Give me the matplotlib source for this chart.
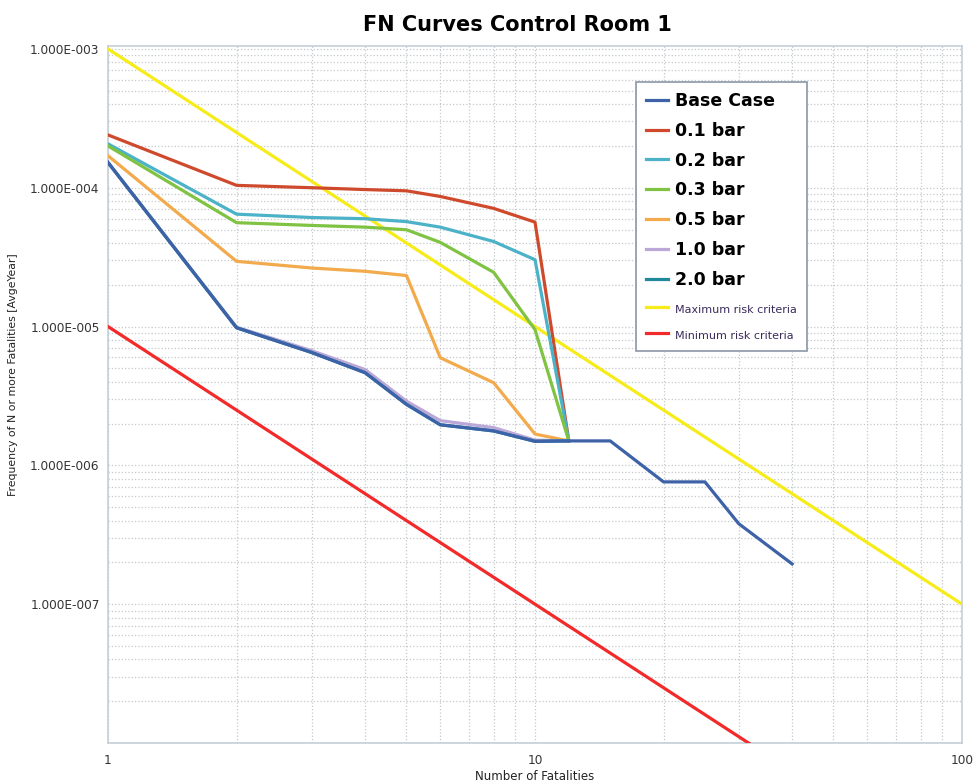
import numpy as np
import matplotlib
matplotlib.use('Agg')
import matplotlib.pyplot as plt
from matplotlib.ticker import FuncFormatter, LogLocator, NullFormatter

# number of fatalities for the scenarios
n_short = [1, 2, 3, 4, 5, 6, 8, 10, 12]
n_base = [1, 2, 3, 4, 5, 6, 8, 10, 12, 15, 20, 25, 30, 40]

base_case = [1.52e-4, 9.8e-6, 6.5e-6, 4.65e-6, 2.75e-6, 1.96e-6, 1.77e-6, 1.49e-6, 1.5e-6,
             1.5e-6, 7.6e-7, 7.6e-7, 3.8e-7, 1.95e-7]
bar_01 = [2.4e-4, 1.04e-4, 1.0e-4, 9.7e-5, 9.5e-5, 8.65e-5, 7.1e-5, 5.65e-5, 1.5e-6]
bar_02 = [2.07e-4, 6.45e-5, 6.1e-5, 5.98e-5, 5.7e-5, 5.2e-5, 4.1e-5, 3.03e-5, 1.5e-6]
bar_03 = [2.0e-4, 5.6e-5, 5.35e-5, 5.2e-5, 4.98e-5, 4.04e-5, 2.46e-5, 9.5e-6, 1.5e-6]
bar_05 = [1.7e-4, 2.95e-5, 2.64e-5, 2.5e-5, 2.33e-5, 5.96e-6, 3.94e-6, 1.68e-6, 1.5e-6]
bar_10 = [1.52e-4, 9.9e-6, 6.7e-6, 4.9e-6, 2.9e-6, 2.1e-6, 1.87e-6, 1.52e-6, 1.5e-6]
bar_20 = [1.52e-4, 9.8e-6, 6.5e-6, 4.65e-6, 2.75e-6, 1.96e-6, 1.77e-6, 1.49e-6, 1.5e-6]

n_crit = [1, 100]
max_crit = [1e-3, 1e-7]
min_crit = [1e-5, 1e-9]

fig = plt.figure(figsize=(9.73, 7.83), dpi=100)
ax = fig.add_axes([0.111, 0.0511, 0.8777, 0.8902])

lw = 2.3
ax.plot(n_base, base_case, color='#3d62a8', lw=lw, label='Base Case', zorder=9)
ax.plot(n_short, bar_01, color='#cf4a2c', lw=lw, label='0.1 bar', zorder=5)
ax.plot(n_short, bar_02, color='#4bb2c8', lw=lw, label='0.2 bar', zorder=5)
ax.plot(n_short, bar_03, color='#80c342', lw=lw, label='0.3 bar', zorder=5)
ax.plot(n_short, bar_05, color='#f2aa4c', lw=lw, label='0.5 bar', zorder=5)
ax.plot(n_short, bar_10, color='#bba8d8', lw=lw, label='1.0 bar', zorder=6)
ax.plot(n_short, bar_20, color='#1f8a9a', lw=lw, label='2.0 bar', zorder=7)
ax.plot(n_crit, max_crit, color='#f7ec1a', lw=lw, label='Maximum risk criteria', zorder=4)
ax.plot(n_crit, min_crit, color='#f22a2a', lw=lw, label='Minimum risk criteria', zorder=4)

ax.set_xscale('log')
ax.set_yscale('log')
ax.set_xlim(1, 100)
ax.set_ylim(1e-8, 1.05e-3)

ax.xaxis.set_major_locator(LogLocator(base=10))
ax.xaxis.set_minor_locator(LogLocator(base=10, subs=np.arange(2, 10)))
ax.yaxis.set_major_locator(LogLocator(base=10))
ax.yaxis.set_minor_locator(LogLocator(base=10, subs=np.arange(2, 10)))
ax.xaxis.set_major_formatter(FuncFormatter(lambda v, p: '%g' % v))
ax.xaxis.set_minor_formatter(NullFormatter())


def sci_fmt(v, p):
    e = int(round(np.log10(v)))
    if e == -8:
        return ''
    return '1.000E-%03d' % (-e)


ax.yaxis.set_major_formatter(FuncFormatter(sci_fmt))
ax.yaxis.set_minor_formatter(NullFormatter())
ax.tick_params(which='both', length=0, labelsize=8.7, colors='#333333', pad=6)
ax.tick_params(axis='x', pad=8)

ax.grid(True, which='both', color='#c4c8cc', linestyle=':', lw=0.9)
ax.set_axisbelow(True)
for s in ax.spines.values():
    s.set_color('#c5ced8')
    s.set_linewidth(1.2)

fig.text(0.532, 0.968, 'FN Curves Control Room 1', fontsize=15, fontweight='bold',
         ha='center', va='center')
ax.set_xlabel('Number of Fatalities', fontsize=8.5, color='#222222', labelpad=2)
ax.set_ylabel('Frequency of N or more Fatalities [AvgeYear]', fontsize=7.8, color='#222222')
ax.yaxis.set_label_coords(-0.105, 0.528)

leg = ax.legend(loc='upper left', bbox_to_anchor=(0.618, 0.949), borderaxespad=0,
                fancybox=False, framealpha=1, edgecolor='#8a96a8', handlelength=1.25,
                handletextpad=0.4, labelspacing=0.68, borderpad=0.6, fontsize=12.5)
leg.get_frame().set_linewidth(1.2)
for i, t in enumerate(leg.get_texts()):
    if i < 7:
        t.set_fontweight('bold')
    else:
        t.set_fontsize(8)
        t.set_color('#3a2a5a')

fig.savefig('out.png', dpi=100)
